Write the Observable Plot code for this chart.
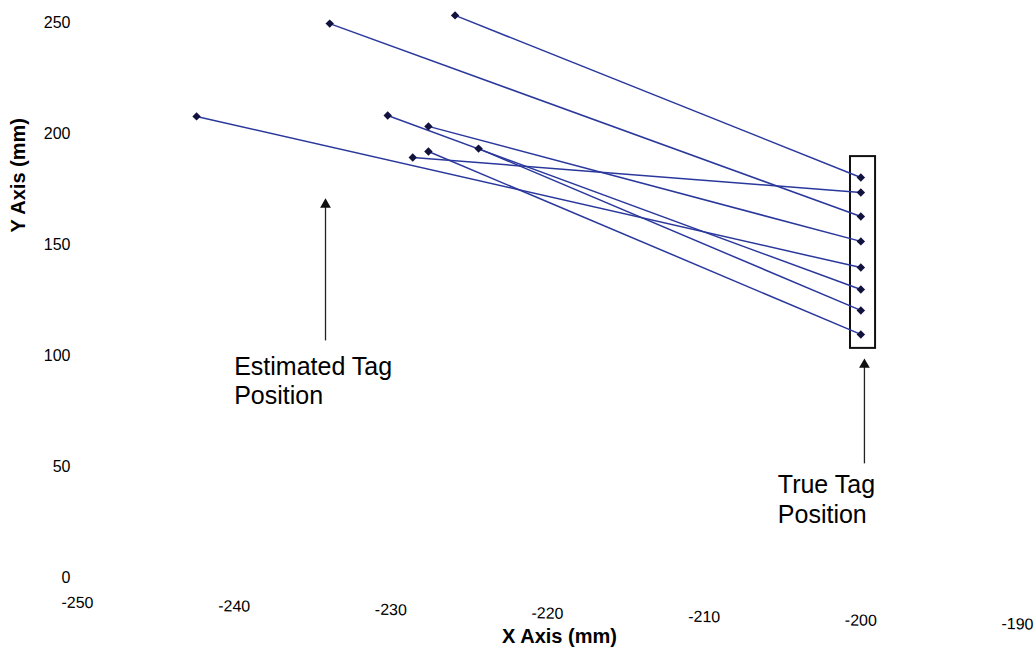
<!DOCTYPE html>
<html><head><meta charset="utf-8">
<script src="https://cdn.jsdelivr.net/npm/d3@7"></script>
<script src="https://cdn.jsdelivr.net/npm/@observablehq/plot@0.6"></script>
<style>
body{margin:0;background:#fff;}
#chart svg{display:block;}
</style></head><body><div id="chart"></div>
<script>
// Estimated tag positions (mm)
const estX = [-225.9, -233.9, -242.4, -230.2, -227.6, -224.4, -227.6, -228.6];
const estY = [253.2, 249.5, 207.7, 208.1, 203.2, 193.2, 191.9, 189.2];
// True tag positions (mm)
const trueX = [-200, -200, -200, -200, -200, -200, -200, -200];
const trueY = [180.2, 162.6, 139.6, 129.7, 151.4, 120.3, 109.5, 173.4];
// Axis ticks
const xTicks = [-250, -240, -230, -220, -210, -200, -190];
const yTicks = [0, 50, 100, 150, 200, 250];

const pairs = estX.map((x, i) => ({ex: x, ey: estY[i], tx: trueX[i], ty: trueY[i]}));
const lineColor = "#2a389c";
const dotColor = "#12123e";
const font = "'Liberation Sans', Arial, sans-serif";

const chart = Plot.plot({
  width: 1034,
  height: 650,
  marginLeft: 77,
  marginRight: 17,
  marginTop: 22,
  marginBottom: 73,
  style: {fontFamily: font, fontSize: "16px", color: "#000", background: "#fff"},
  x: {domain: [-250, -190], ticks: xTicks, tickSize: 0, tickPadding: 19, label: null, tickFormat: d => String(d)},
  y: {domain: [0, 250], ticks: yTicks, tickSize: 0, tickPadding: 7, label: null, tickFormat: d => String(d)},
  marks: [
    // box around the true tag positions
    Plot.rect([0], {x1: -200.66, x2: -199.06, y1: 103.2, y2: 189.6, fill: "none", stroke: "#111", strokeWidth: 2}),
    Plot.link(pairs, {x1: "ex", y1: "ey", x2: "tx", y2: "ty", stroke: lineColor, strokeWidth: 1.5}),
    Plot.dot(pairs, {x: "ex", y: "ey", symbol: "diamond2", r: 3.8, fill: dotColor}),
    Plot.dot(pairs, {x: "tx", y: "ty", symbol: "diamond2", r: 3.8, fill: dotColor}),
    // annotation arrows
    Plot.link([0], {x1: -234.17, x2: -234.17, y1: 106.8, y2: 168, stroke: "#222", strokeWidth: 1.3}),
    Plot.dot([0], {x: -234.17, y: 168.0, symbol: "triangle", r: 4, fill: "#111"}),
    Plot.link([0], {x1: -199.77, x2: -199.77, y1: 51.4, y2: 96, stroke: "#222", strokeWidth: 1.3}),
    Plot.dot([0], {x: -199.77, y: 95.9, symbol: "triangle", r: 4, fill: "#111"}),
    Plot.text(["Estimated Tag\nPosition"], {x: -240.0, y: 100.5, text: d => d, textAnchor: "start", lineAnchor: "top", fontSize: 25, lineHeight: 1.17, fill: "#000"}),
    Plot.text(["True Tag\nPosition"], {x: -205.3, y: 47.3, text: d => d, textAnchor: "start", lineAnchor: "top", fontSize: 25, lineHeight: 1.17, fill: "#000"}),
    // axis titles
    Plot.text(["X Axis (mm)"], {frameAnchor: "bottom", text: d => d, dx: 12, dy: 59.5, lineAnchor: "middle", fontSize: 20, fontWeight: "bold", fill: "#000"}),
    Plot.text(["Y Axis (mm)"], {frameAnchor: "left", text: d => d, rotate: -90, dx: -59, dy: -67.5, lineAnchor: "middle", fontSize: 20, fontWeight: "bold", fill: "#000"})
  ]
});

// the scanned original has its x tick labels slightly slanted; wrap them in a skewed group
const xl = chart.querySelector('g[aria-label="x-axis tick label"]');
if (xl) {
  const wrap = document.createElementNS("http://www.w3.org/2000/svg", "g");
  wrap.setAttribute("transform", "translate(77,0) skewY(1.3) translate(-77,0)");
  xl.parentNode.insertBefore(wrap, xl);
  wrap.appendChild(xl);
}
document.getElementById("chart").appendChild(chart);
</script>
</body></html>
